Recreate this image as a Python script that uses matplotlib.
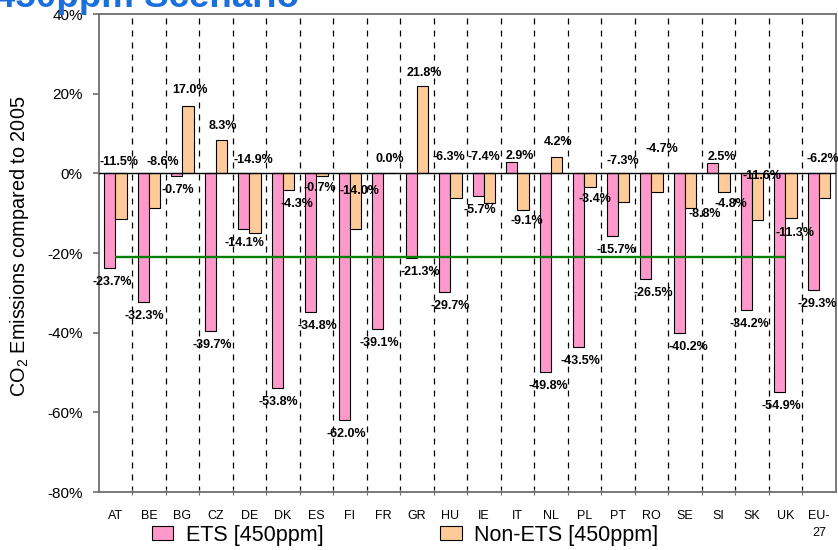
import matplotlib
matplotlib.use("Agg")
import matplotlib.pyplot as plt
from matplotlib.patches import Patch
from matplotlib.ticker import FixedLocator, FuncFormatter

plt.rcParams['font.family'] = ['Liberation Sans', 'DejaVu Sans']
plt.rcParams['mathtext.default'] = 'regular'

# Member states (EU-27 total last)
countries = ['AT', 'BE', 'BG', 'CZ', 'DE', 'DK', 'ES', 'FI', 'FR', 'GR', 'HU',
             'IE', 'IT', 'NL', 'PL', 'PT', 'RO', 'SE', 'SI', 'SK', 'UK', 'EU-\n27']

# Change in CO2 emissions vs 2005, percent
ets_450 = [-23.7, -32.3, -0.7, -39.7, -14.1, -53.8, -34.8, -62.0, -39.1, -21.3, -29.7,
           -5.7, 2.9, -49.8, -43.5, -15.7, -26.5, -40.2, 2.5, -34.2, -54.9, -29.3]
non_ets_450 = [-11.5, -8.6, 17.0, 8.3, -14.9, -4.3, -0.7, -14.0, 0.0, 21.8, -6.3,
               -7.4, -9.1, 4.2, -3.4, -7.3, -4.7, -8.8, -4.8, -11.6, -11.3, -6.2]

# EU-wide ETS reduction target
ets_target = -21.0

y_ticks = [-80, -60, -40, -20, 0, 20, 40]

# Value-label placement (pixel nudges); Non-ETS labels hang either off the
# bar end or off the zero line
ets_label_dx = [2, 1, 1, 1.5, 1, 1, 6.5, 2, 1.5, 9, 5,
                2, 8, 3, 2, 4.5, 8, 9, 9.5, 3, 2, 3.5]
non_ets_label_at_zero = [True, True, False, False, True, False, False, True,
                         False, False, True, True, False, False, False, True,
                         True, False, False, True, False, True]
non_ets_label_dx = [-2, 8, 2, 1, -2, 8, -2, 4, 1, 2, -7,
                    -6, 4, 1.5, 5, -1, 5, 14, 6.5, 4, 4, -2]
non_ets_label_dy = [11.6, 11.6, 15.6, 14.2, 13.3, -13.6, -12.2, -17.7, 14.3, 13.8, 16,
                    16, -11.2, 14.9, -12.5, 12.6, 24, -5.6, -11.6, -2.7, -15, 14]

ets_color = '#FF99CC'
non_ets_color = '#FFCC99'
frame_color = '#6e6e6e'

W, H = 838, 550
fig = plt.figure(figsize=(W / 100, H / 100), dpi=100)
ax = fig.add_axes([98.7 / W, 1 - 492 / H, (835.7 - 98.7) / W, (492 - 14) / H])

n = len(countries)
xs = list(range(n))
bw = 0.34

ax.bar([x - bw / 2 for x in xs], ets_450, width=bw, color=ets_color,
       edgecolor='black', linewidth=0.8, zorder=3)
ax.bar([x + bw / 2 for x in xs], non_ets_450, width=bw, color=non_ets_color,
       edgecolor='black', linewidth=0.8, zorder=3)

# dashed separators between countries
for k in range(n - 1):
    ax.axvline(k + 0.5, color='black', lw=0.9, ls=(0, (4.8, 4.8)), zorder=1)

ax.axhline(0, color='black', lw=1.0, zorder=4)
ax.hlines(ets_target, 0, n - 2, color='#008000', lw=1.7, zorder=5)

lab_kw = dict(ha='center', va='center', fontsize=9, fontweight='bold',
              textcoords='offset pixels', zorder=6)


def fmt(v):
    return f"{v:.1f}%"


for x, v, dx in zip(xs, ets_450, ets_label_dx):
    dy = 6 if v >= 0 else -14
    ax.annotate(fmt(v), (x - bw / 2, v), xytext=(dx, dy), **lab_kw)

for x, v, at_zero, dx, dy in zip(xs, non_ets_450, non_ets_label_at_zero,
                                 non_ets_label_dx, non_ets_label_dy):
    anchor = 0 if at_zero else v
    ax.annotate(fmt(v), (x + bw / 2, anchor), xytext=(dx, dy), **lab_kw)

ax.set_xlim(-0.5, n - 0.5)
ax.set_ylim(-80, 40)

ax.set_xticks(xs)
ax.set_xticklabels(countries, fontsize=9, linespacing=1.5)
ax.xaxis.set_minor_locator(FixedLocator([k + 0.5 for k in range(n - 1)]))
ax.tick_params(axis='x', which='major', length=0, pad=13)
ax.tick_params(axis='x', which='minor', length=4, direction='inout',
               color=frame_color, width=0.8)

ax.set_yticks(y_ticks)
ax.yaxis.set_major_formatter(FuncFormatter(lambda v, p: f"{v:.0f}%"))
ax.tick_params(axis='y', length=4.5, width=1.2, color=frame_color,
               labelsize=11, pad=7)

for s in ax.spines.values():
    s.set_color(frame_color)
    s.set_linewidth(1.3)

fig.text(20 / W, 1 - 246 / H, 'CO$_2$ Emissions compared to 2005',
         rotation=90, ha='center', va='center', fontsize=14.3)

fig.text(-5 / W, 1 - 7 / H, '450ppm Scenario', ha='left', va='baseline',
         fontsize=26.5, fontweight='bold', color='#1a6fdc')

leg_fs = 15.5
leg_kw = dict(loc='center left', frameon=False, fontsize=leg_fs,
              handlelength=1.0, handleheight=0.6, handletextpad=0.6,
              borderpad=0, borderaxespad=0)
fig.legend(handles=[Patch(facecolor=ets_color, edgecolor='black', lw=0.8,
                          label='ETS [450ppm]')],
           bbox_to_anchor=(151.7 / W, 1 - 535 / H), **leg_kw)
fig.legend(handles=[Patch(facecolor=non_ets_color, edgecolor='black', lw=0.8,
                          label='Non-ETS [450ppm]')],
           bbox_to_anchor=(440 / W, 1 - 535 / H), **leg_kw)

fig.savefig('out.png', dpi=100)
